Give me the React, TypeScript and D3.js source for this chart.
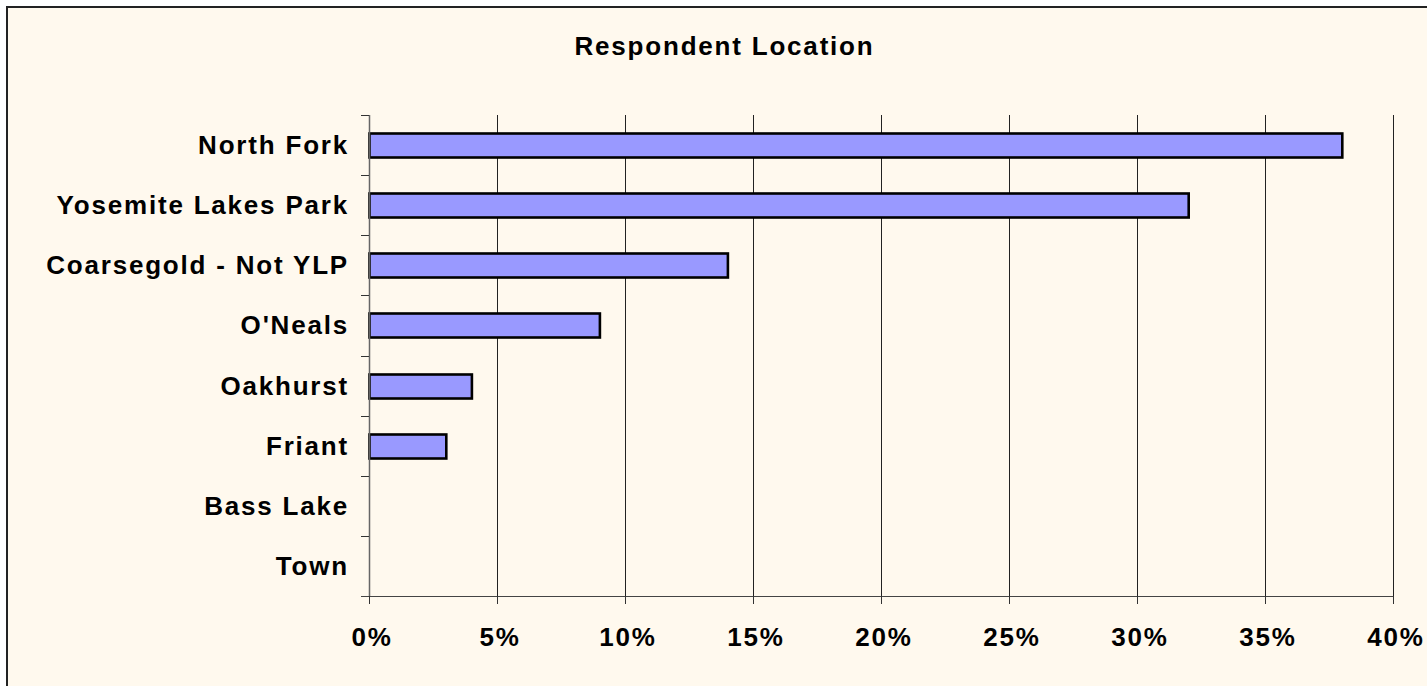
import React from "react";
import * as d3 from "d3";

const categories = ["North Fork", "Yosemite Lakes Park", "Coarsegold - Not YLP", "O'Neals", "Oakhurst", "Friant", "Bass Lake", "Town"];
const values = [38, 32, 14, 9, 4, 3, 0, 0];
const xTicks = [0, 5, 10, 15, 20, 25, 30, 35, 40];
const title = "Respondent Location";

const W = 1427;
const H = 686;
const left = 369;
const right = 1393;
const top = 115;
const bottom = 596;
const FONT = "'Liberation Sans', Arial, sans-serif";
const FS = 26;

const crisp = (v: number) => Math.round(v) + 0.5;

export default function App() {
  const x = d3.scaleLinear().domain([0, 40]).range([left, right]);
  const y = d3.scaleBand<string>().domain(categories).range([top, bottom]).paddingInner(0.6).paddingOuter(0.3);
  const step = (bottom - top) / categories.length;

  return (
    <svg width={W} height={H} style={{ position: "absolute", left: 0, top: 0, background: "#ffffff" }}>
      <rect x={7} y={7} width={1440} height={700} fill="#FFF9EE" stroke="#222" strokeWidth={2} />
      <text x={724.5} y={54.5} textAnchor="middle" fontFamily={FONT} fontWeight="bold" fontSize={FS} style={{ letterSpacing: "1.8px" }} fill="#000">
        {title}
      </text>
      {/* gridlines */}
      {xTicks.filter((t) => t > 0).map((t) => (
        <line key={"g" + t} x1={crisp(x(t))} x2={crisp(x(t))} y1={top} y2={bottom} stroke="#222" strokeWidth={1} />
      ))}
      {/* bars */}
      {categories.map((c, i) =>
        values[i] > 0 ? (
          <rect key={c} x={x(0) + 0.5} y={Math.round(y(c)!) + 0.5} width={x(values[i]) - x(0)} height={Math.round(y.bandwidth())} fill="#9999FF" stroke="#000" strokeWidth={2.6} />
        ) : null
      )}
      {/* y axis */}
      <line x1={crisp(left)} x2={crisp(left)} y1={top} y2={bottom} stroke="#666" strokeWidth={1.5} />
      {d3.range(categories.length + 1).map((i) => (
        <line key={"yt" + i} x1={left - 8} x2={left} y1={crisp(top + i * step)} y2={crisp(top + i * step)} stroke="#333" strokeWidth={1} />
      ))}
      {/* x axis */}
      <line x1={left - 8} x2={right + 1} y1={crisp(bottom)} y2={crisp(bottom)} stroke="#444" strokeWidth={1.2} />
      {xTicks.map((t) => (
        <line key={"xt" + t} x1={crisp(x(t))} x2={crisp(x(t))} y1={bottom} y2={bottom + 8} stroke="#333" strokeWidth={1} />
      ))}
      {xTicks.map((t) => (
        <text key={"xl" + t} x={x(t) + 3} y={646} textAnchor="middle" fontFamily={FONT} fontWeight="bold" fontSize={FS} style={{ letterSpacing: "1.8px" }} fill="#000">
          {t + "%"}
        </text>
      ))}
      {categories.map((c, i) => (
        <text key={"yl" + c} x={349} y={top + (i + 0.5) * step + 9} textAnchor="end" fontFamily={FONT} fontWeight="bold" fontSize={FS} style={{ letterSpacing: "1.8px" }} fill="#000">
          {c}
        </text>
      ))}
    </svg>
  );
}
